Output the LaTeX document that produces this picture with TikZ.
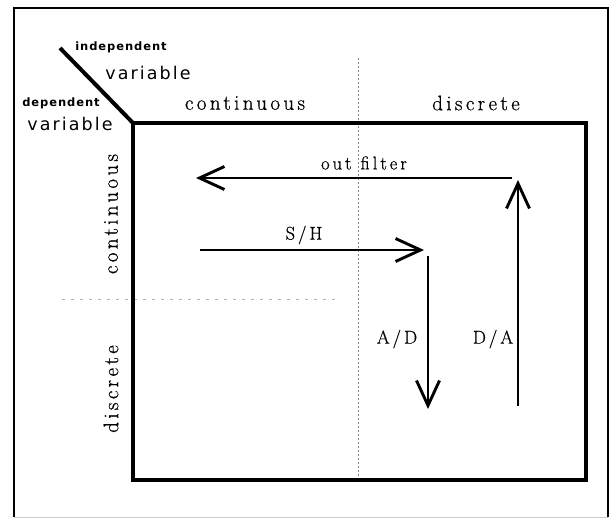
\documentclass[tikz,border=0pt]{standalone}
\usepackage{fontspec}
\usetikzlibrary{arrows.meta}
\newfontfamily\labfont[LetterSpace=16,FakeBold=0.6]{Latin Modern Roman}
\newfontfamily\varfont[LetterSpace=12]{DejaVu Sans}
\newfontfamily\smallbold[LetterSpace=8]{DejaVu Sans Bold}
\begin{document}
\begin{tikzpicture}[x=1pt,y=-1pt,
  bigtext/.style={font=\labfont\fontsize{21}{24}\selectfont, inner sep=0pt},
  arrtext/.style={font=\labfont\fontsize{18.5}{20}\selectfont, inner sep=0pt},
  vartext/.style={font=\varfont\fontsize{17.5}{20}\selectfont, inner sep=0pt},
  deptext/.style={font=\smallbold\fontsize{11.5}{13}\selectfont, inner sep=0pt},
  conn/.style={line width=2.9pt, -{Straight Barb[length=25pt,width=23pt,line width=2.9pt]}},
  guide/.style={gray, line width=0.8pt, dash pattern=on 2pt off 2pt}]
\useasboundingbox (0,0) rectangle (611,520);
% outer frame
\coordinate (o1) at (14,517);
\coordinate (o2) at (14,8);
\coordinate (o3) at (608,8);
\coordinate (o4) at (608,517);
\draw[line width=1.6pt] (o1) -- (o2) -- (o3) -- (o4);
\draw[gray!40, line width=1pt] (o4) -- (o1);
% guide lines
\coordinate (vt) at (358,58);
\coordinate (vb) at (358,478);
\draw[guide] (vt) -- (vb);
\coordinate (hl) at (62,299);
\coordinate (hr) at (335,299);
\draw[gray!60, line width=0.8pt, dash pattern=on 3pt off 6pt] (hl) -- (hr);
% inner box
\coordinate (c1) at (133,123);
\coordinate (c2) at (586,480);
\draw[line width=4pt] (c1) rectangle (c2);
% diagonal
\coordinate (d0) at (60,48);
\draw[line width=4pt] (d0) -- (c1);
% header labels
\node[deptext] (indep) at (121,47) {independent};
\node[vartext] (var1) at (148,73) {variable};
\node[deptext] (dep) at (61,103) {dependent};
\node[vartext] (var2) at (70,124) {variable};
\node[bigtext] (ccol) at (245,103) {continuous};
\node[bigtext] (dcol) at (476,103) {discrete};
\node[bigtext, rotate=90] (crow) at (111,214) {continuous};
\node[bigtext, rotate=90] (drow) at (111,389) {discrete};
% arrow endpoints
\coordinate (ofs) at (512,178);
\coordinate (ofe) at (196,178);
\coordinate (shs) at (200,250);
\coordinate (she) at (424,250);
\coordinate (ads) at (428,256);
\coordinate (ade) at (428,409);
\coordinate (das) at (518,406);
\coordinate (dae) at (518,180);
\draw[conn] (ofs) -- (ofe);
\draw[conn] (shs) -- (she);
\draw[conn] (ads) -- (ade);
\draw[conn] (das) -- (dae);
% arrow labels
\node[arrtext] (oflab) at (364,163) {out\hspace{9pt}filter};
\node[arrtext] (shlab) at (304,235) {S/H};
\node[arrtext] (adlab) at (397,339) {A/D};
\node[arrtext] (dalab) at (493,339) {D/A};
\end{tikzpicture}
\end{document}
